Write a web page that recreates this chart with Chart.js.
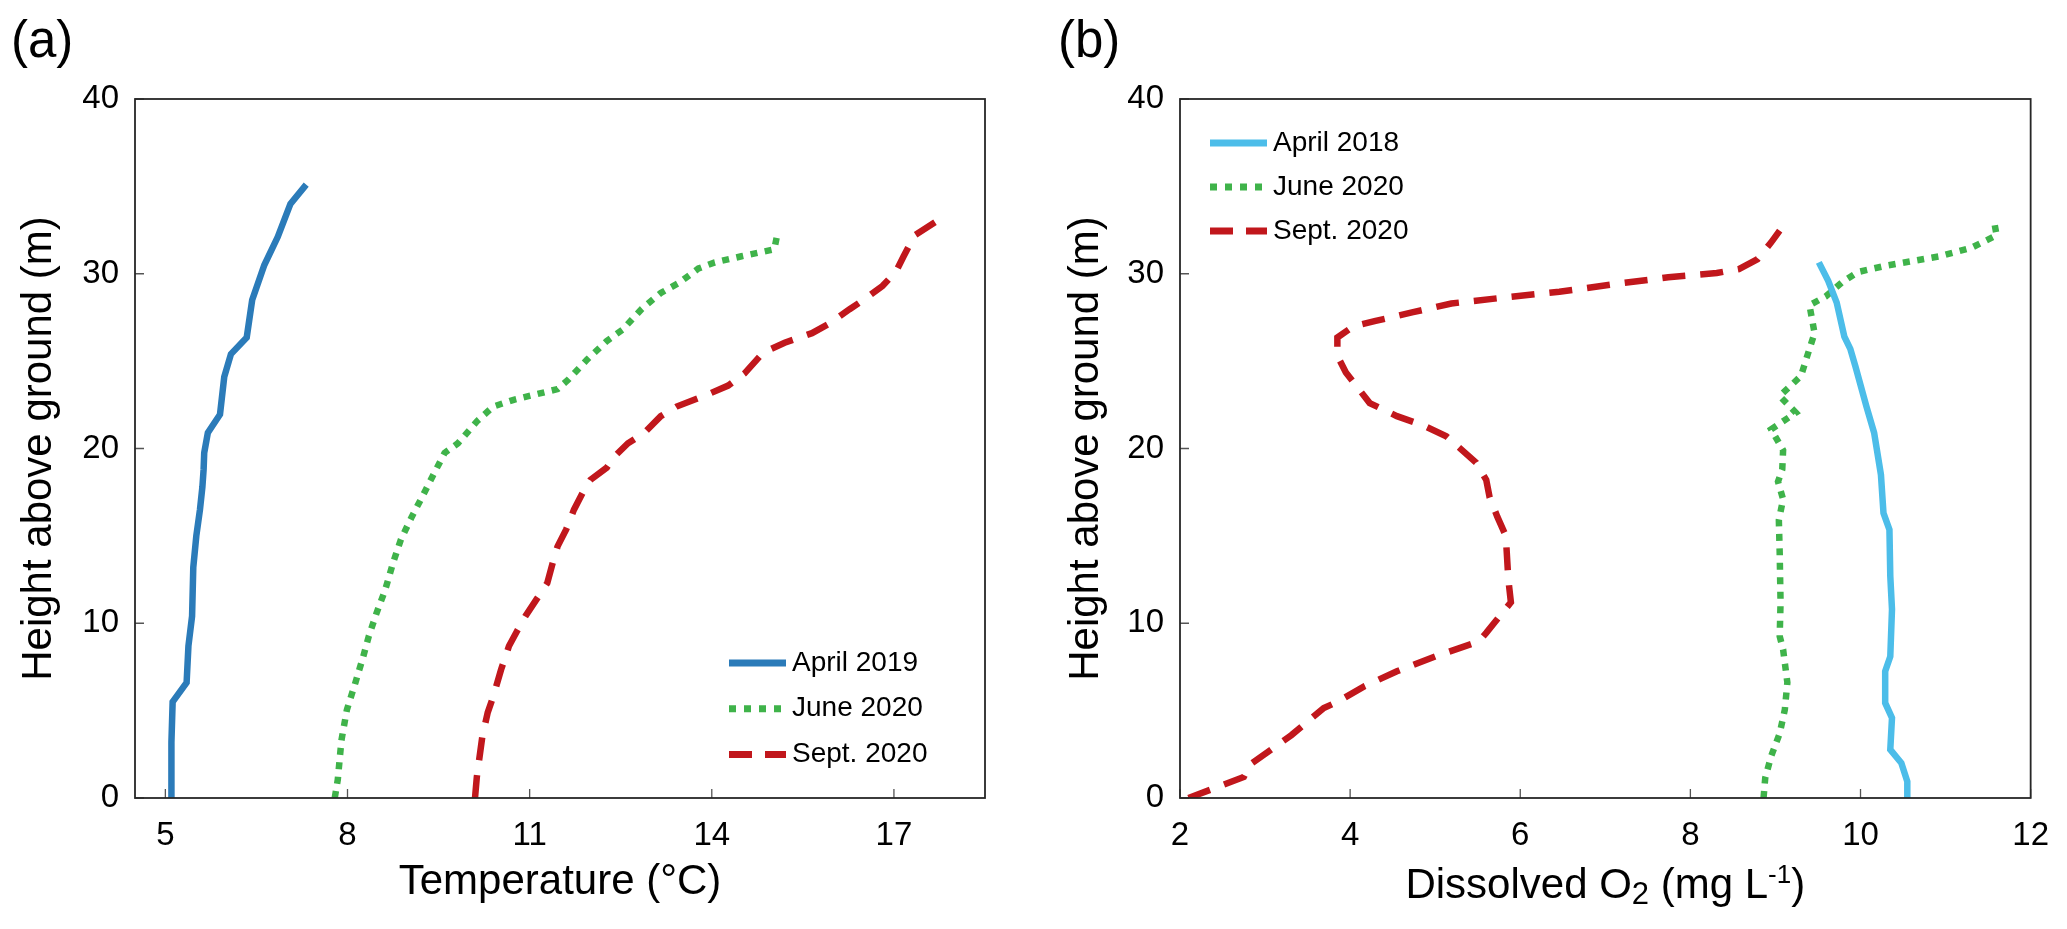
<!DOCTYPE html>
<html>
<head>
<meta charset="utf-8">
<title>Temperature and dissolved oxygen profiles</title>
<script src="https://cdn.jsdelivr.net/npm/chart.js@4.4.1/dist/chart.umd.min.js"></script>
<style>
  html, body { margin: 0; padding: 0; background: #fff; }
  body { width: 2067px; height: 929px; position: relative; overflow: hidden; }
  .panel { position: absolute; top: 0; height: 929px; }
  #panelA { left: 0; width: 1034px; }
  #panelB { left: 1034px; width: 1033px; }
  canvas { display: block; }
</style>
</head>
<body>
<div class="panel" id="panelA"><canvas id="chartA" width="1034" height="929"></canvas></div>
<div class="panel" id="panelB"><canvas id="chartB" width="1033" height="929"></canvas></div>
<script>
// tick labels
const heightTicks = [0, 10, 20, 30, 40];
const tempTicks = [5, 8, 11, 14, 17];
const oxyTicks = [2, 4, 6, 8, 10, 12];

// panel (a): temperature (°C) vs height above ground (m)
const apr2019Temp = [5.10, 5.10, 5.12, 5.35, 5.38, 5.44, 5.46, 5.51, 5.57, 5.61, 5.63, 5.64, 5.70, 5.90, 5.97, 6.08, 6.34, 6.43, 6.63, 6.85, 7.06, 7.32];
const apr2019Height = [0, 3.2, 5.5, 6.6, 8.7, 10.4, 13.2, 15.0, 16.5, 17.8, 18.8, 19.75, 20.9, 21.95, 24.1, 25.4, 26.35, 28.5, 30.5, 32.1, 34.0, 35.1];

const jun2020Temp = [7.79, 7.84, 7.90, 7.99, 8.13, 8.26, 8.35, 8.48, 8.62, 8.75, 8.88, 9.06, 9.24, 9.40, 9.60, 9.82, 10.13, 10.40, 10.75, 11.46, 11.64, 11.95, 12.27, 12.53, 12.85, 13.16, 13.47, 13.78, 14.05, 14.49, 15.03, 15.07];
const jun2020HeightA = [0, 1.05, 3.3, 5.05, 6.6, 8.1, 9.25, 10.6, 11.9, 13.45, 14.8, 16.1, 17.3, 18.4, 19.75, 20.3, 21.55, 22.4, 22.8, 23.4, 23.95, 25.1, 26.15, 26.8, 28.0, 28.9, 29.5, 30.3, 30.65, 31.0, 31.4, 32.1];

const sep2020Temp = [10.10, 10.13, 10.22, 10.31, 10.40, 10.53, 10.66, 10.80, 10.93, 11.11, 11.29, 11.38, 11.46, 11.60, 11.73, 11.87, 12.00, 12.27, 12.40, 12.62, 12.89, 13.16, 13.42, 13.87, 14.27, 14.54, 14.85, 15.20, 15.65, 15.96, 16.27, 16.54, 16.81, 17.03, 17.16, 17.34, 17.70];
const sep2020HeightA = [0, 1.2, 3.5, 4.9, 5.8, 7.35, 8.7, 9.6, 10.4, 11.35, 12.3, 13.45, 14.4, 15.35, 16.5, 17.45, 18.2, 18.9, 19.55, 20.3, 20.9, 21.85, 22.4, 23.0, 23.6, 24.3, 25.5, 26.05, 26.6, 27.2, 27.97, 28.6, 29.3, 30.1, 31.0, 32.2, 33.0];

// panel (b): dissolved O2 (mg/L) vs height above ground (m)
const apr2018Oxy = [10.55, 10.55, 10.48, 10.35, 10.37, 10.29, 10.29, 10.35, 10.37, 10.35, 10.34, 10.27, 10.24, 10.16, 10.07, 9.94, 9.88, 9.81, 9.72, 9.62, 9.51];
const apr2018Height = [0, 0.95, 2.0, 2.77, 4.58, 5.44, 7.25, 8.1, 10.8, 12.7, 15.36, 16.3, 18.5, 20.9, 22.4, 24.7, 25.7, 26.4, 28.35, 29.6, 30.65];

const jun2020Oxy = [8.86, 8.88, 8.95, 9.05, 9.11, 9.14, 9.09, 9.05, 9.06, 9.05, 9.04, 9.09, 9.03, 9.08, 9.09, 8.95, 9.24, 9.05, 9.30, 9.40, 9.46, 9.40, 9.59, 9.78, 9.97, 10.29, 10.93, 11.31, 11.60, 11.57];
const jun2020HeightB = [0, 1.15, 2.4, 3.7, 5.05, 6.6, 8.5, 9.25, 11.2, 14.0, 15.9, 17.1, 18.1, 18.8, 19.9, 21.1, 22.05, 23.0, 24.15, 25.7, 26.6, 28.2, 28.7, 29.5, 30.1, 30.45, 31.0, 31.5, 32.2, 33.0];

const sep2020Oxy = [2.10, 2.75, 2.82, 3.31, 3.69, 3.85, 4.17, 4.55, 5.00, 5.51, 5.60, 5.89, 5.86, 5.83, 5.73, 5.64, 5.60, 5.48, 5.13, 4.87, 4.55, 4.23, 4.07, 3.95, 3.85, 3.85, 4.04, 4.30, 4.74, 5.19, 5.83, 6.46, 7.10, 7.74, 8.31, 8.57, 8.79, 8.95, 9.05];
const sep2020HeightB = [0, 1.2, 1.9, 3.6, 5.15, 5.5, 6.4, 7.25, 8.1, 8.95, 9.45, 11.2, 12.5, 15.0, 16.1, 17.2, 18.2, 19.2, 20.7, 21.3, 21.85, 22.6, 23.6, 24.35, 25.3, 26.35, 27.0, 27.3, 27.8, 28.3, 28.65, 28.97, 29.4, 29.8, 30.04, 30.27, 30.84, 31.8, 32.47];

const FONT = '"Liberation Sans", Arial, sans-serif';
Chart.defaults.font.family = FONT;
Chart.defaults.color = '#000';

const pts = (xs, ys) => xs.map((x, i) => ({ x, y: ys[i] }));

// box round the plot area plus short inward ticks on the left and bottom axes
const frame = {
  id: 'frame',
  afterDraw(chart) {
    const { ctx, chartArea: a, scales } = chart;
    ctx.save();
    ctx.strokeStyle = '#555';
    ctx.lineWidth = 1.3;
    ctx.beginPath();
    scales.x.ticks.forEach(t => {
      const px = scales.x.getPixelForValue(t.value);
      ctx.moveTo(px, a.bottom);
      ctx.lineTo(px, a.bottom - 9);
    });
    scales.y.ticks.forEach(t => {
      const py = scales.y.getPixelForValue(t.value);
      ctx.moveTo(a.left, py);
      ctx.lineTo(a.left + 9, py);
    });
    ctx.stroke();
    ctx.strokeStyle = '#262626';
    ctx.lineWidth = 1.8;
    ctx.strokeRect(a.left, a.top, a.right - a.left, a.bottom - a.top);
    ctx.restore();
  }
};

// legend drawn inside the plot, like the original
const insideLegend = {
  id: 'insideLegend',
  afterDraw(chart, args, o) {
    const ctx = chart.ctx;
    ctx.save();
    chart.data.datasets.forEach((ds, i) => {
      const y = o.y + i * o.gap;
      ctx.beginPath();
      ctx.strokeStyle = ds.borderColor;
      ctx.lineWidth = 7;
      ctx.lineCap = 'butt';
      ctx.setLineDash(ds.legendDash || []);
      ctx.moveTo(o.x, y);
      ctx.lineTo(o.x + o.len, y);
      ctx.stroke();
      ctx.setLineDash([]);
      ctx.fillStyle = '#000';
      ctx.font = '28px ' + FONT;
      ctx.textBaseline = 'middle';
      ctx.textAlign = 'left';
      ctx.fillText(ds.label, o.x + o.len + o.textGap, y);
    });
    ctx.restore();
  }
};

// "(a)" / "(b)" tags and the O2 axis title with sub/superscripts
const panelText = {
  id: 'panelText',
  afterDraw(chart, args, o) {
    const ctx = chart.ctx;
    const a = chart.chartArea;
    ctx.save();
    ctx.fillStyle = '#000';
    ctx.textBaseline = 'alphabetic';
    ctx.textAlign = 'left';
    ctx.font = '51px ' + FONT;
    ctx.fillText(o.tag, o.tagX, 57);
    if (o.parts) {
      const widths = o.parts.map(p => {
        ctx.font = p.size + 'px ' + FONT;
        return ctx.measureText(p.text).width;
      });
      let x = (a.left + a.right) / 2 - widths.reduce((s, w) => s + w, 0) / 2;
      o.parts.forEach((p, i) => {
        ctx.font = p.size + 'px ' + FONT;
        ctx.fillText(p.text, x, o.titleY + (p.dy || 0));
        x += widths[i];
      });
    }
    ctx.restore();
  }
};

function line(label, data, color, dash, legendDash) {
  return {
    label, data,
    borderColor: color,
    backgroundColor: color,
    borderWidth: 6.5,
    borderDash: dash,
    legendDash,
    borderCapStyle: 'butt',
    borderJoinStyle: 'miter',
    pointRadius: 0,
    showLine: true,
    fill: false,
    tension: 0
  };
}

function makeChart(el, cfg) {
  return new Chart(el, {
    type: 'scatter',
    data: { datasets: cfg.datasets },
    plugins: [frame, insideLegend, panelText],
    options: {
      responsive: false,
      animation: false,
      events: [],
      layout: { padding: cfg.padding },
      plugins: {
        legend: { display: false },
        tooltip: { enabled: false },
        insideLegend: cfg.legend,
        panelText: cfg.text
      },
      scales: {
        x: {
          type: 'linear',
          min: cfg.xMin,
          max: cfg.xMax,
          afterBuildTicks: s => { s.ticks = cfg.xTicks.map(v => ({ value: v })); },
          afterFit: s => { s.height = 121; },
          grid: { display: false, drawTicks: false },
          border: { display: false },
          ticks: { padding: 18, color: '#000', font: { size: 33 } },
          title: {
            display: !!cfg.xTitle,
            text: cfg.xTitle || '',
            color: '#000',
            font: { size: 42 },
            padding: { top: 0, bottom: 11 }
          }
        },
        y: {
          type: 'linear',
          min: 0,
          max: 40,
          afterBuildTicks: s => { s.ticks = heightTicks.map(v => ({ value: v })); },
          afterFit: s => { s.width = cfg.yWidth; },
          grid: { display: false, drawTicks: false },
          border: { display: false },
          ticks: { padding: 16, color: '#000', font: { size: 33 } },
          title: {
            display: true,
            text: 'Height above ground (m)',
            color: '#000',
            font: { size: 42 },
            padding: { top: cfg.yTitlePad, bottom: 0 }
          }
        }
      }
    }
  });
}

const dotted = [7, 7.5];
const dashed = [23, 15];

makeChart(document.getElementById('chartA'), {
  padding: { left: 4, top: 99, right: 49, bottom: 10 },
  yWidth: 131,
  yTitlePad: 10,
  xMin: 4.5,
  xMax: 18.5,
  xTicks: tempTicks,
  xTitle: 'Temperature (°C)',
  legend: { x: 729, y: 663, gap: 45.7, len: 57, textGap: 6 },
  text: { tag: '(a)', tagX: 11 },
  datasets: [
    line('April 2019', pts(apr2019Temp, apr2019Height), '#2b7bb9', [], []),
    line('June 2020', pts(jun2020Temp, jun2020HeightA), '#3fb34a', dotted, [7, 8]),
    line('Sept. 2020', pts(sep2020Temp, sep2020HeightA), '#c1171c', dashed, [23, 13])
  ]
});

makeChart(document.getElementById('chartB'), {
  padding: { left: 4, top: 99, right: 36, bottom: 10 },
  yWidth: 142,
  yTitlePad: 23,
  xMin: 2,
  xMax: 12,
  xTicks: oxyTicks,
  xTitle: '',
  legend: { x: 176, y: 143, gap: 44, len: 57, textGap: 6 },
  text: {
    tag: '(b)', tagX: 24, titleY: 898,
    parts: [
      { text: 'Dissolved O', size: 42 },
      { text: '2', size: 31, dy: 6 },
      { text: ' (mg L', size: 42 },
      { text: '-1', size: 26, dy: -15 },
      { text: ')', size: 42 }
    ]
  },
  datasets: [
    line('April 2018', pts(apr2018Oxy, apr2018Height), '#4cbde9', [], []),
    line('June 2020', pts(jun2020Oxy, jun2020HeightB), '#3fb34a', dotted, [7, 8]),
    line('Sept. 2020', pts(sep2020Oxy, sep2020HeightB), '#c1171c', dashed, [23, 13])
  ]
});
</script>
</body>
</html>
